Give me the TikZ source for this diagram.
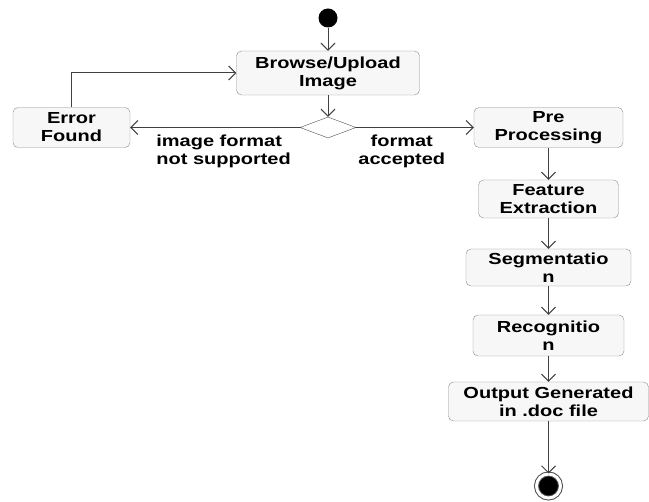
\documentclass[tikz,border=0pt]{standalone}
\usepackage{fontspec}
\setmainfont{Liberation Sans}[FakeStretch=1.25]
\usetikzlibrary{positioning, shapes.geometric, arrows.meta}

\begin{document}
\begin{tikzpicture}[
    x=1pt, y=1pt,
    node distance=55pt,
    on grid,
    font=\fontsize{16}{18}\selectfont\bfseries,
    activity/.style={draw=black!45, fill=black!3, rounded corners=5pt, align=center, inner sep=2pt, minimum height=40pt},
    decision/.style={diamond, draw=black!70, minimum width=56pt, minimum height=21pt, inner sep=0pt},
    startdot/.style={circle, fill=black, minimum size=19pt, inner sep=0pt},
    enddot/.style={circle, fill=black, draw=black!70, double=white, double distance=3pt, line width=1pt, minimum size=24pt, inner sep=0pt},
    guard/.style={align=left, inner sep=0pt},
    every edge/.append style={draw=black!75, line width=1pt, >={Straight Barb[length=7pt,width=14pt]}}
]
   \useasboundingbox (0,0) rectangle (649,-502);

   % Nodes
   \node[startdot] (start) at (328,-18) {};
   \node[activity, minimum width=183pt, minimum height=44pt] (browse) [below=55pt of start] {Browse/Upload\\Image};
   \node[decision] (dia) [below=54.5pt of browse] {};
   \node[activity, minimum width=117pt] (err) [left=256.5pt of dia] {Error\\Found};
   \node[activity, minimum width=149pt] (pre) [right=220.5pt of dia] {Pre\\Processing};
   \node[activity, minimum width=140pt, minimum height=38pt] (feat) [below=71.5pt of pre] {Feature\\Extraction};
   \node[activity, minimum width=165pt, minimum height=37pt] (seg) [below=68.5pt of feat] {Segmentatio\\n};
   \node[activity, minimum width=151pt, minimum height=41pt] (rec) [below=68pt of seg] {Recognitio\\n};
   \node[activity, minimum width=200pt, minimum height=39pt] (out) [below=66pt of rec] {Output Generated\\in .doc file};
   \node[enddot] (stop) [below=84.5pt of out] {};

   % Guards
   \node[guard, anchor=north west] (nsup) at ([xshift=26pt,yshift=-7pt]err.east) {image format\\not supported};
   \node[guard, align=center, anchor=north] (acc) at ([xshift=-72pt,yshift=-7pt]pre.west) {format\\accepted};

   % Transitions
   \path[->]
   (start) edge (browse)
   (browse) edge (dia)
   (dia) edge (err)
   (dia) edge (pre)
   (err.north) edge[to path={|- (\tikztotarget)}] (browse.west)
   (pre) edge (feat)
   (feat) edge (seg)
   (seg) edge (rec)
   (rec) edge (out)
   (out) edge (stop);
\end{tikzpicture}
\end{document}
